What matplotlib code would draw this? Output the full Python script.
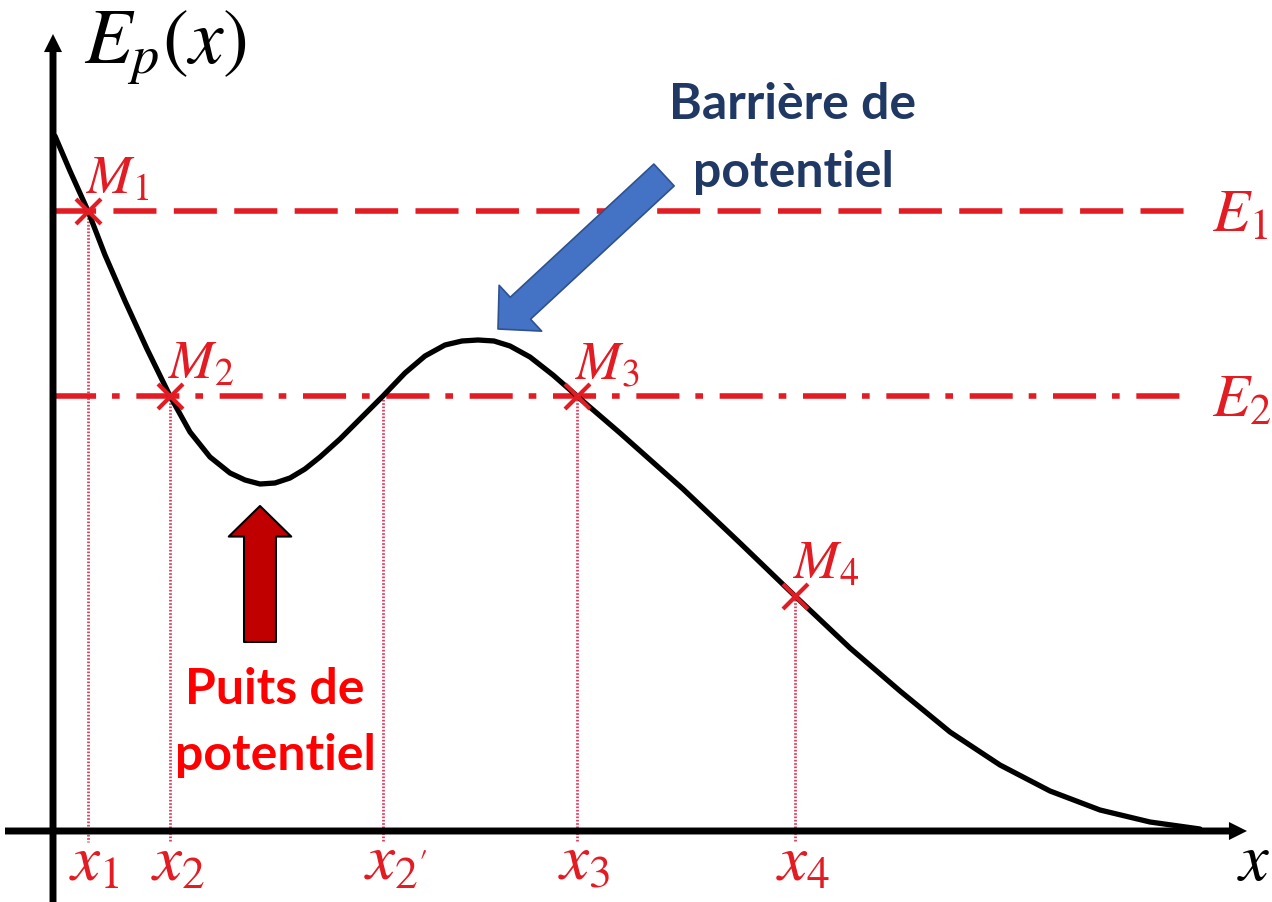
import matplotlib
matplotlib.use("Agg")
import matplotlib.pyplot as plt
from matplotlib.patches import FancyArrowPatch, ArrowStyle

plt.rcParams["mathtext.fontset"] = "stix"
plt.rcParams["lines.scale_dashes"] = False

# potential energy curve Ep(x), read point by point
x_curve = [0.02, 0.17, 0.35, 0.52, 0.72, 0.94, 1.17, 1.37, 1.57, 1.77, 1.92,
           2.07, 2.22, 2.37, 2.52, 2.67, 2.87, 3.07, 3.30, 3.52, 3.72, 3.92,
           4.09, 4.25, 4.41, 4.57, 4.77, 5.00, 5.24, 5.67, 6.30, 6.87, 7.42,
           7.97, 8.47, 8.97, 9.47, 9.97, 10.47, 10.97, 11.47]
ep_curve = [6.95, 6.60, 6.20, 5.76, 5.30, 4.82, 4.35, 3.99, 3.74, 3.58, 3.51,
            3.47, 3.48, 3.53, 3.62, 3.74, 3.92, 4.12, 4.35, 4.58, 4.75, 4.86,
            4.90, 4.91, 4.90, 4.85, 4.74, 4.56, 4.35, 3.98, 3.42, 2.88, 2.35,
            1.83, 1.40, 0.99, 0.66, 0.40, 0.21, 0.09, 0.02]

# energy levels
level_labels = [r"$E_1$", r"$E_2$"]
level_values = [6.20, 4.35]
level_ends = [11.47, 11.42]

# intersection points
point_labels = [r"$M_1$", r"$M_2$", r"$M_3$", r"$M_4$"]
point_x = [0.35, 1.17, 5.24, 7.42]
point_ep = [6.20, 4.35, 4.35, 2.35]

# abscissas marked on the x axis
tick_labels = [r"$x_1$", r"$x_2$", r"$x_{2'}$", r"$x_3$", r"$x_4$"]
tick_x = [0.35, 1.17, 3.30, 5.24, 7.42]
tick_ep = [6.20, 4.35, 4.35, 4.35, 2.35]

barrier_lines = ["Barrière de", "potentiel"]
well_lines = ["Puits de", "potentiel"]

RED = "#e31b23"
DOT_RED = "#d8405e"
NAVY = "#203864"

fig = plt.figure(figsize=(12.72, 9.03), dpi=100)
ax = fig.add_axes([0, 0, 1, 1])
ax.set_xlim(-0.53, 12.19)
ax.set_ylim(-0.71, 8.32)
ax.axis("off")

# axes with arrow heads
axis_style = ArrowStyle.Simple(head_length=13, head_width=13, tail_width=5)
for a, b in [((-0.48, 0), (11.94, 0)), ((0, -0.75), (0, 7.97))]:
    ax.add_patch(FancyArrowPatch(a, b, arrowstyle=axis_style, mutation_scale=1,
                                 color="black", lw=0, shrinkA=0, shrinkB=0,
                                 zorder=3))

# horizontal energy levels
styles = [(0, (31, 12.5)), (0, (31, 11.5, 5.5, 12))]
for y, x_end, ls, lbl in zip(level_values, level_ends, styles, level_labels):
    ax.plot([0, x_end], [y, y], color=RED, lw=4, linestyle=ls, zorder=2)
    ax.text(11.59, y - 0.20, lbl, color=RED, fontsize=44, ha="left",
            va="baseline")

# dotted drop lines and x labels
for x, y, lbl in zip(tick_x, tick_ep, tick_labels):
    ax.plot([x, x], [y, -0.11], color=DOT_RED, lw=2,
            linestyle=(0, (1.2, 1.2)), zorder=1)
    ax.text(x - 0.19, -0.48, lbl, color=RED, fontsize=47, ha="left",
            va="baseline")

# the curve
ax.plot(x_curve, ep_curve, color="black", lw=3.8, solid_capstyle="round",
        solid_joinstyle="round", zorder=4)

# points M and their labels
ax.plot(point_x, point_ep, linestyle="none", marker="x", markersize=18,
        mew=3, color=RED, zorder=5)
for x, y, lbl in zip(point_x, point_ep, point_labels):
    ax.text(x - 0.02, y + 0.18, lbl, color=RED, fontsize=39, ha="left",
            va="baseline")

# axis titles
ax.text(0.31, 7.69, r"$E_p(x)$", fontsize=56, ha="left", va="baseline")
ax.text(11.84, -0.48, r"$x$", fontsize=48, ha="left", va="baseline")

# potential barrier annotation
ax.add_patch(FancyArrowPatch((6.11, 6.56), (4.45, 5.02),
                             arrowstyle=ArrowStyle.Simple(head_length=22,
                                                          head_width=45,
                                                          tail_width=21.5),
                             mutation_scale=1, facecolor="#4472c4",
                             edgecolor="#2f528f", lw=1.2, shrinkA=0, shrinkB=0,
                             zorder=6))
for i, line in enumerate(barrier_lines):
    ax.text(7.40, 7.13 - 0.68 * i, line, color=NAVY, fontsize=36,
            fontfamily="Lato", fontweight="bold", ha="center", va="baseline")

# potential well annotation
ax.add_patch(FancyArrowPatch((2.07, 1.89), (2.07, 3.25),
                             arrowstyle=ArrowStyle.Simple(head_length=22,
                                                          head_width=45,
                                                          tail_width=23),
                             mutation_scale=1, facecolor="#c00000",
                             edgecolor="black", lw=1.5, shrinkA=0, shrinkB=0,
                             zorder=6))
for i, line in enumerate(well_lines):
    ax.text(2.22, 1.28 - 0.66 * i, line, color="#ff0000", fontsize=36,
            fontfamily="Lato", fontweight="bold", ha="center", va="baseline")

fig.savefig("out.png", dpi=100)
